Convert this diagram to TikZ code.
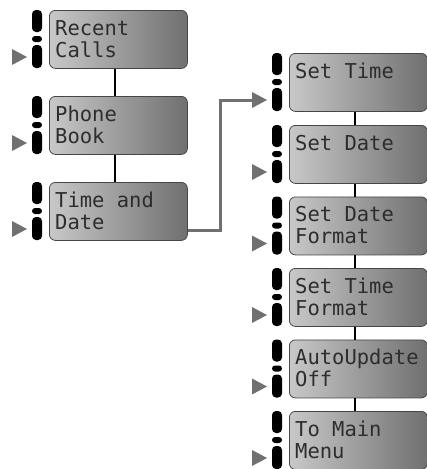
\documentclass[tikz,border=0pt]{standalone}
\usepackage{fontspec}
\newfontfamily\lcdfont{DejaVu Sans Mono}
\usetikzlibrary{calc}
\definecolor{lcdL}{RGB}{200,200,200}
\definecolor{lcdR}{RGB}{112,112,112}
\definecolor{lcdEdge}{RGB}{70,70,70}
\definecolor{tri}{RGB}{112,112,112}
\definecolor{ink}{RGB}{45,45,45}
\tikzset{
  lcd/.style={draw=lcdEdge, line width=0.8pt, rounded corners=6pt,
    left color=lcdL, right color=lcdR, minimum width=138pt,
    minimum height=58pt, inner sep=0pt, anchor=north west},
  lcdtext/.style={anchor=base west, inner sep=0pt, text=ink,
    font=\lcdfont\fontsize{20.5}{22}\selectfont},
  keypart/.style={fill=black, rounded corners=4pt},
  tribox/.style={fill=tri},
  treelink/.style={draw=black, line width=1.6pt},
  graylink/.style={draw=tri, line width=3pt}
}
\newcommand\softkeys[1]{%
  \fill[keypart] ($(#1.north west)+(-17,0)$) rectangle ($(#1.north west)+(-7,22)$);
  \fill[keypart, rounded corners=3pt] ($(#1.north west)+(-17,26)$) rectangle ($(#1.north west)+(-7,32)$);
  \fill[keypart] ($(#1.north west)+(-17,35)$) rectangle ($(#1.north west)+(-7,58)$);
  \fill[tribox] ($(#1.north west)+(-22,47)$) -- ($(#1.north west)+(-37,39)$) -- ($(#1.north west)+(-37,55)$) -- cycle;
}
\newcommand\screenTwo[5]{%
  \node[lcd] (#1) at (#2,#3) {};
  \node[lcdtext] (#1-a) at ($(#1.north west)+(6,25)$) {#4};
  \node[lcdtext] (#1-b) at ($(#1.north west)+(6,47)$) {#5};
  \softkeys{#1}
}
\newcommand\screenOne[4]{%
  \node[lcd] (#1) at (#2,#3) {};
  \node[lcdtext] (#1-a) at ($(#1.north west)+(6,25)$) {#4};
  \softkeys{#1}
}
\begin{document}
\begin{tikzpicture}[x=1pt, y=-1pt]
\useasboundingbox (0,0) rectangle (427,469);
% left column
\screenTwo{b1}{49}{10}{Recent}{Calls}
\screenTwo{b2}{49}{96}{Phone}{Book}
\screenTwo{b3}{49}{182}{Time and}{Date}
% right column
\screenOne{r1}{289}{53}{Set Time}
\screenOne{r2}{289}{125}{Set Date}
\screenTwo{r3}{289}{196.5}{Set Date}{Format}
\screenTwo{r4}{289}{268}{Set Time}{Format}
\screenTwo{r5}{289}{339.5}{AutoUpdate}{Off}
\screenTwo{r6}{289}{411}{To Main}{Menu}
% tree links
\foreach \a/\b in {b1/b2, b2/b3, r1/r2, r2/r3, r3/r4, r4/r5, r5/r6}{
  \draw[treelink] ($(\a.south west)+(66,0)$) -- ($(\b.north west)+(66,0)$);
}
% link from Time and Date to Set Time
\coordinate (tipbase) at ($(r1.north west)+(-37,47)$);
\draw[graylink] ($(b3.south east)+(0,-10)$) -| ($(tipbase)+(-32,0)$) -- (tipbase);
\end{tikzpicture}
\end{document}
